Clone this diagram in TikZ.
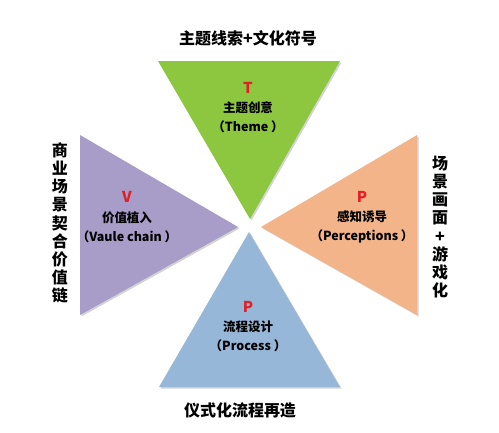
\documentclass[tikz,border=0pt]{standalone}
\usepackage{fontspec}
\setmainfont{Noto Sans CJK SC}
\usepackage{tikz}
\usetikzlibrary{positioning,shadows}

\definecolor{greenT}{RGB}{141,198,63}
\definecolor{purpleV}{RGB}{168,156,200}
\definecolor{orangeP}{RGB}{243,180,138}
\definecolor{blueP}{RGB}{151,183,216}
\definecolor{redL}{RGB}{228,30,38}

\begin{document}
\begin{tikzpicture}[x=1pt,y=-1pt,
  tri/.style={drop shadow={shadow xshift=1.5pt,shadow yshift=-1.5pt,opacity=0.35}},
  letter/.style={text=redL,font=\bfseries\fontsize{15}{15}\selectfont},
  caption/.style={font=\bfseries\fontsize{12.5}{19}\selectfont,align=center},
  title/.style={font=\bfseries\fontsize{16}{16}\selectfont},
  side/.style={font=\bfseries\fontsize{16}{18.2}\selectfont,align=center}]

  \useasboundingbox (0,0) rectangle (499,432);

  % four triangles
  \path[tri,fill=greenT]  (158,61) -- (340,61) -- (250,219) -- cycle;
  \path[tri,fill=purpleV] (80,135) -- (80,315) -- (238,227) -- cycle;
  \path[tri,fill=orangeP] (417,135) -- (417,315) -- (261,227) -- cycle;
  \path[tri,fill=blueP]   (249,232) -- (340,387) -- (159,387) -- cycle;

  % letters and captions
  \node[letter]  (T)  at (248,88)  {T};
  \node[caption] (Tc) at (248,117) {主题创意\\（Theme ）};
  \node[letter]  (V)  at (127,197) {V};
  \node[caption] (Vc) at (127,227) {价值植入\\（Vaule chain ）};
  \node[letter]  (P1) at (362,197) {P};
  \node[caption] (P1c) at (362,227) {感知诱导\\（Perceptions ）};
  \node[letter]  (P2) at (248,307) {P};
  \node[caption] (P2c) at (248,336) {流程设计\\（Process ）};

  % outer titles
  \node[title] (top)    at (248,38)  {主题线索+文化符号};
  \node[title] (bottom) at (240,410) {仪式化流程再造};
  \node[side]  (left)   at (60,223)  {商\\业\\场\\景\\契\\合\\价\\值\\链};
  \node[side]  (right)  at (440,227) {场\\景\\画\\面\\+\\游\\戏\\化};
\end{tikzpicture}
\end{document}
